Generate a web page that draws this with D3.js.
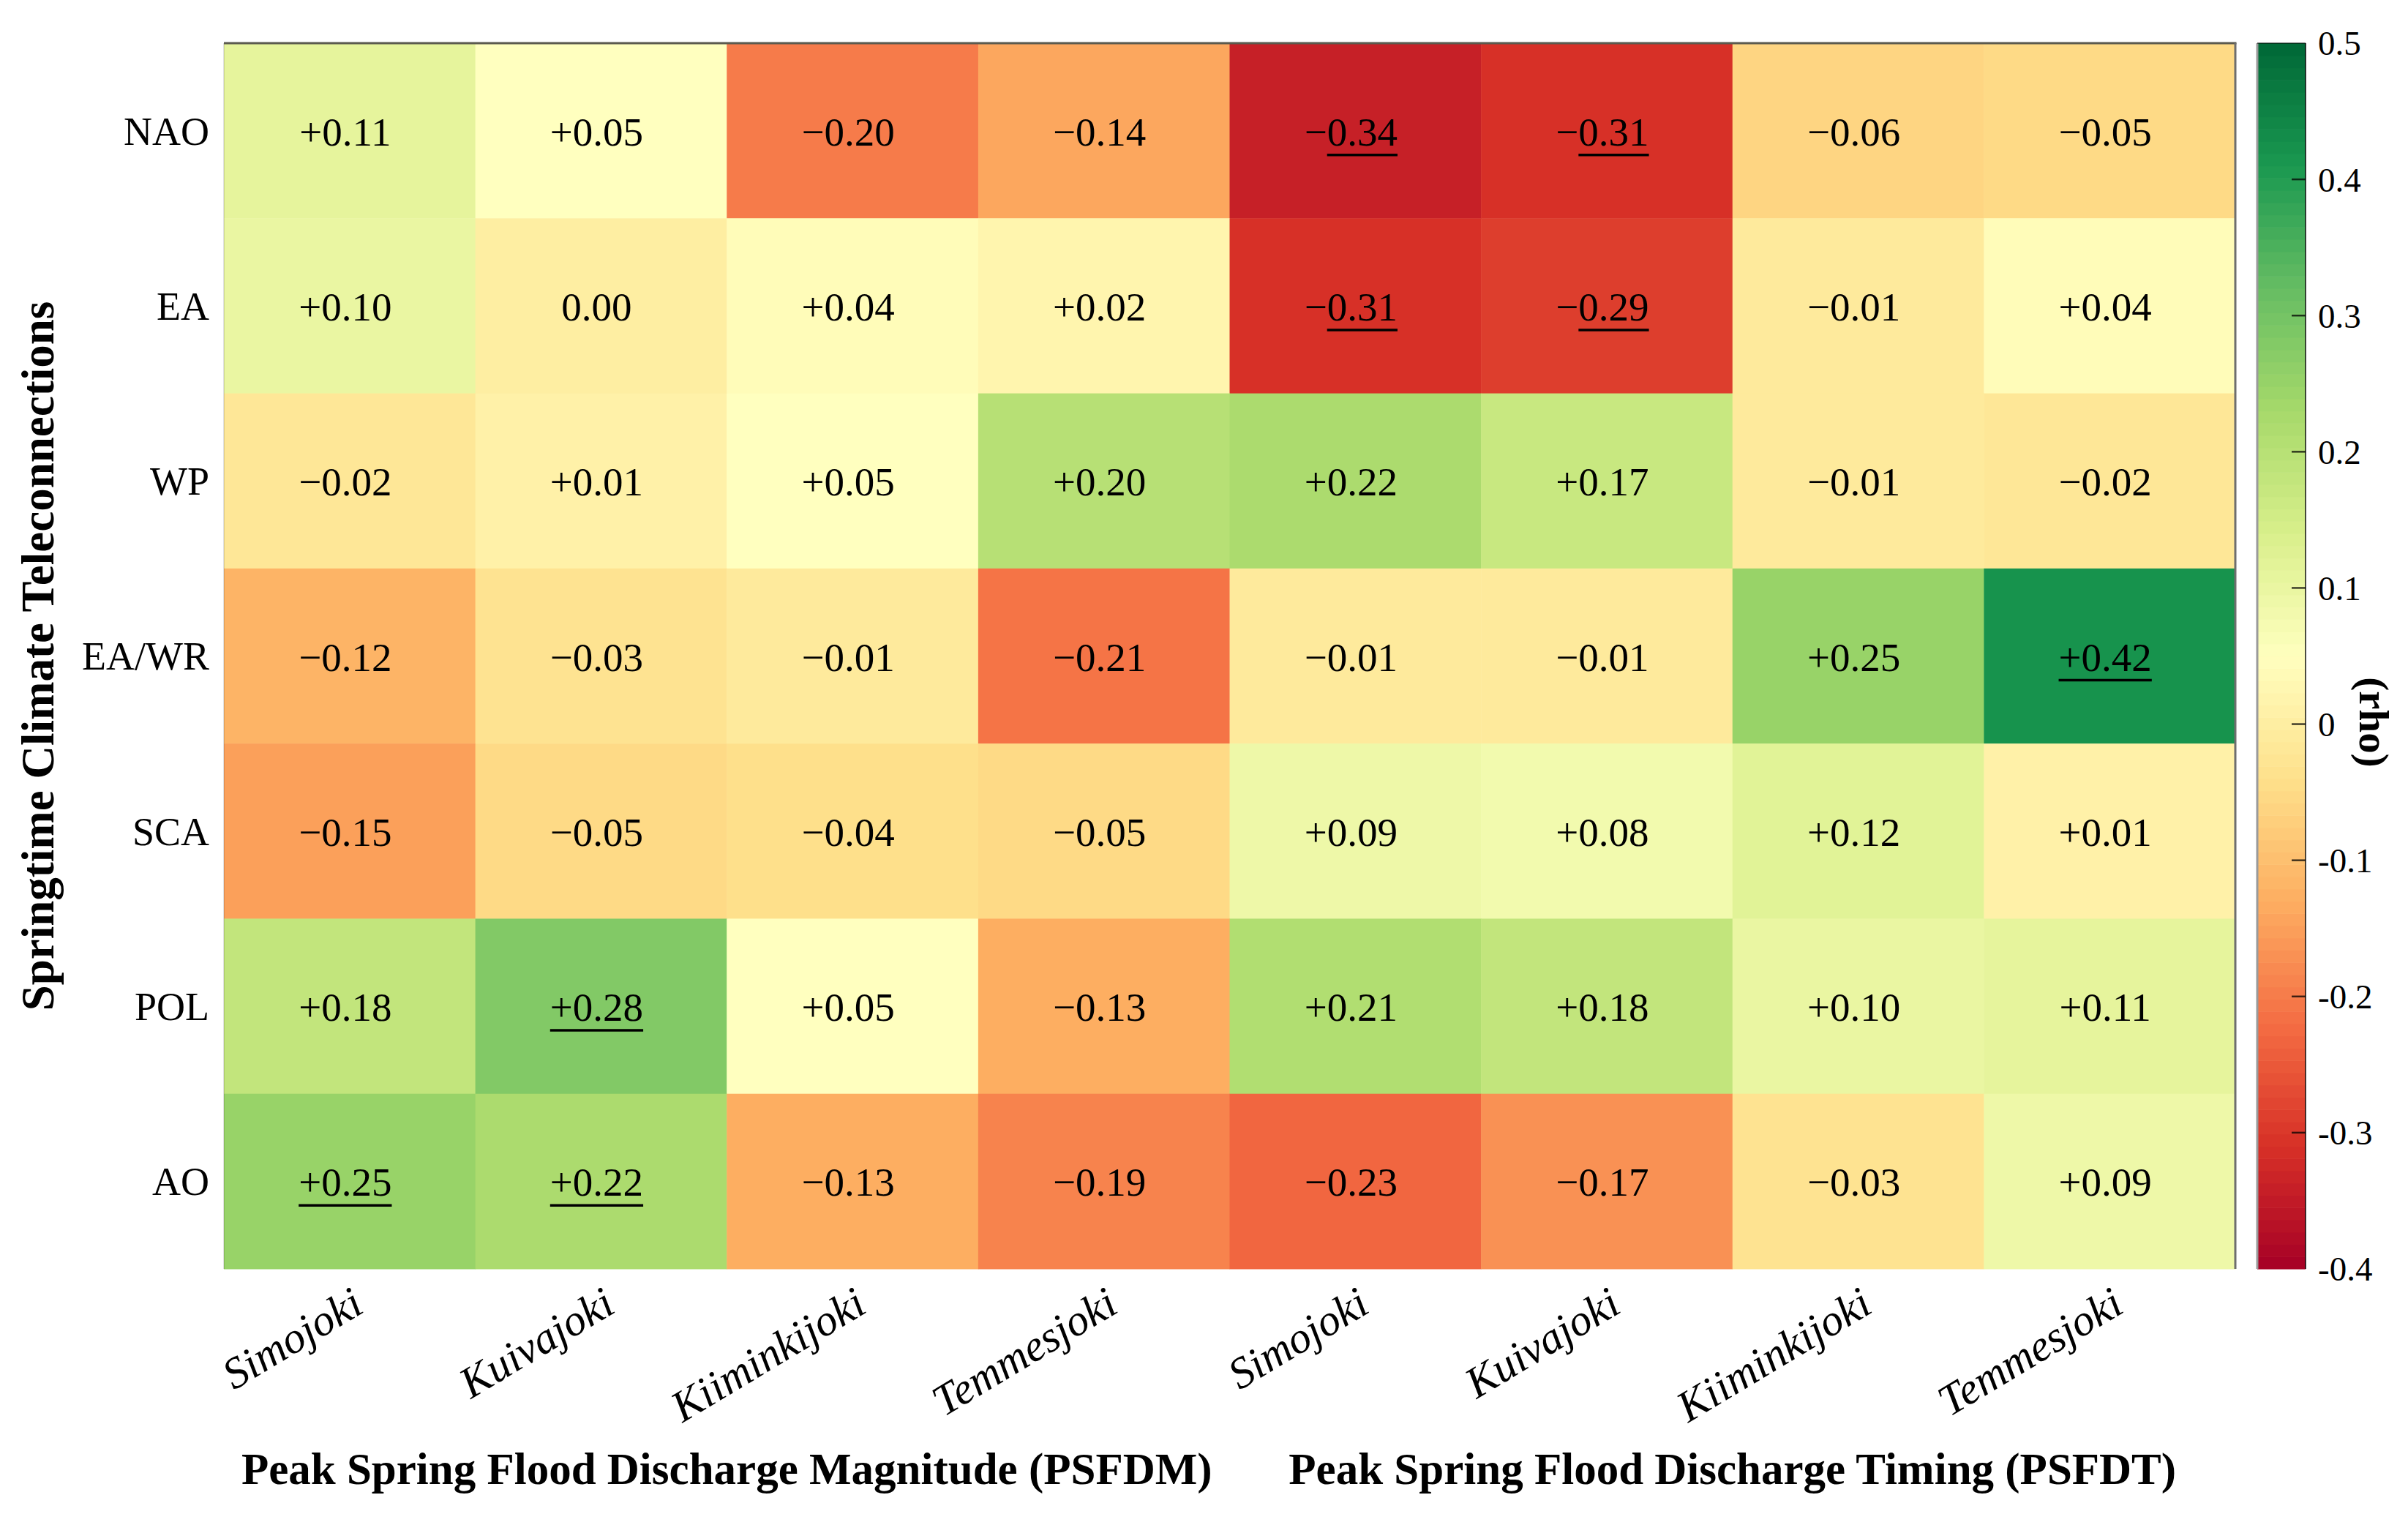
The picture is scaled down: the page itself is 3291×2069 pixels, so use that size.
<!DOCTYPE html>
<html>
<head>
<meta charset="utf-8">
<script src="https://cdn.jsdelivr.net/npm/d3@7"></script>
<style>
  html, body { margin: 0; padding: 0; background: #fff; }
  svg { display: block; }
  svg text { font-family: "Liberation Serif", "Times New Roman", serif; }
</style>
</head>
<body>
<svg id="chart" width="3291" height="2069" font-family="Liberation Serif, Times New Roman, serif"></svg>
<script>
// ---- data ----
const teleconnections = ["NAO", "EA", "WP", "EA/WR", "SCA", "POL", "AO"];
const rivers = ["Simojoki", "Kuivajoki", "Kiiminkijoki", "Temmesjoki",
                "Simojoki", "Kuivajoki", "Kiiminkijoki", "Temmesjoki"];
const groups = ["Peak Spring Flood Discharge Magnitude (PSFDM)",
                "Peak Spring Flood Discharge Timing (PSFDT)"];
const rhoNAO  = [0.11, 0.05, -0.20, -0.14, -0.34, -0.31, -0.06, -0.05];
const rhoEA   = [0.10, 0.00, 0.04, 0.02, -0.31, -0.29, -0.01, 0.04];
const rhoWP   = [-0.02, 0.01, 0.05, 0.20, 0.22, 0.17, -0.01, -0.02];
const rhoEAWR = [-0.12, -0.03, -0.01, -0.21, -0.01, -0.01, 0.25, 0.42];
const rhoSCA  = [-0.15, -0.05, -0.04, -0.05, 0.09, 0.08, 0.12, 0.01];
const rhoPOL  = [0.18, 0.28, 0.05, -0.13, 0.21, 0.18, 0.10, 0.11];
const rhoAO   = [0.25, 0.22, -0.13, -0.19, -0.23, -0.17, -0.03, 0.09];
const sigNAO  = [0, 0, 0, 0, 1, 1, 0, 0];
const sigEA   = [0, 0, 0, 0, 1, 1, 0, 0];
const sigWP   = [0, 0, 0, 0, 0, 0, 0, 0];
const sigEAWR = [0, 0, 0, 0, 0, 0, 0, 1];
const sigSCA  = [0, 0, 0, 0, 0, 0, 0, 0];
const sigPOL  = [0, 1, 0, 0, 0, 0, 0, 0];
const sigAO   = [1, 1, 0, 0, 0, 0, 0, 0];
const colorbarTicks = [0.5, 0.4, 0.3, 0.2, 0.1, 0, -0.1, -0.2, -0.3, -0.4];
const colorbarTickLabels = ["0.5", "0.4", "0.3", "0.2", "0.1", "0", "-0.1", "-0.2", "-0.3", "-0.4"];
const colorDomain = [-0.4, 0.5];
const yTitle = "Springtime Climate Teleconnections";
const cbTitle = "(rho)";

const values = [rhoNAO, rhoEA, rhoWP, rhoEAWR, rhoSCA, rhoPOL, rhoAO];
const sig = [sigNAO, sigEA, sigWP, sigEAWR, sigSCA, sigPOL, sigAO];
const cells = [];
values.forEach((row, r) => row.forEach((v, c) => cells.push({r, c, v, s: sig[r][c]})));

// ---- layout ----
const FONT = "Liberation Serif, Times New Roman, serif";
const L = 306, R = 3055, T = 59, B = 1734;
const svg = d3.select("#chart");
svg.append("rect").attr("width", 3291).attr("height", 2069).attr("fill", "#fff");

const x = d3.scaleBand().domain(d3.range(rivers.length)).range([L, R]).padding(0);
const y = d3.scaleBand().domain(teleconnections).range([T, B]).padding(0);
// piecewise-linear RdYlGn (11 anchor colours) over the colour domain
const palette = d3.schemeRdYlGn[11];
const color = d3.scaleLinear()
  .domain(d3.range(palette.length).map(i => colorDomain[0] + i * (colorDomain[1] - colorDomain[0]) / (palette.length - 1)))
  .range(palette)
  .interpolate(d3.interpolateRgb)
  .clamp(true);

const fmt = v => v === 0 ? "0.00" : (v > 0 ? "+" : "\u2212") + Math.abs(v).toFixed(2);

// cells
svg.append("g").selectAll("rect").data(cells).join("rect")
  .attr("x", d => x(d.c)).attr("y", d => y(teleconnections[d.r]))
  .attr("width", x.bandwidth() + 0.5).attr("height", y.bandwidth() + 0.5)
  .attr("fill", d => color(d.v));

// frame
svg.append("line").attr("x1", L).attr("x2", L).attr("y1", T).attr("y2", B)
  .attr("stroke", "rgba(0,0,0,0.12)").attr("stroke-width", 2);
svg.append("line").attr("x1", L).attr("x2", R + 1.5).attr("y1", T).attr("y2", T)
  .attr("stroke", "#5b5a4e").attr("stroke-width", 3);
svg.append("line").attr("x1", R).attr("x2", R).attr("y1", T).attr("y2", B)
  .attr("stroke", "#6e6e6e").attr("stroke-width", 3);

// cell labels
const lbl = svg.append("g").selectAll("text").data(cells).join("text")
  .attr("x", d => x(d.c) + x.bandwidth() / 2 - 6)
  .attr("y", d => y(teleconnections[d.r]) + y.bandwidth() / 2 + 20)
  .attr("text-anchor", "middle")
  .attr("font-family", FONT)
  .attr("font-size", 55)
  .attr("fill", "#000")
  .text(d => fmt(d.v));

// underlines for significant values
lbl.each(function(d) {
  if (!d.s) return;
  const len = this.getComputedTextLength();
  const cx = x(d.c) + x.bandwidth() / 2 - 6;
  let x0 = cx - len / 2;
  const x1 = cx + len / 2;
  if (d.v < 0) x0 += this.getSubStringLength(0, 1);
  const by = y(teleconnections[d.r]) + y.bandwidth() / 2 + 20 + 13;
  svg.append("line").attr("x1", x0).attr("x2", x1).attr("y1", by).attr("y2", by)
    .attr("stroke", "#000").attr("stroke-width", 3.5);
});

// y axis labels
const yAxis = d3.axisLeft(y).tickSize(0).tickPadding(20);
const yg = svg.append("g").attr("transform", `translate(${L},0)`).call(yAxis);
yg.attr("font-family", FONT);
yg.select(".domain").remove();
yg.selectAll("text").attr("font-size", 54).attr("font-family", FONT)
  .attr("fill", "#000").attr("dy", "0.35em");

// x axis labels (rotated, italic)
svg.append("g").selectAll("text").data(rivers).join("text")
  .attr("transform", (d, i) => `translate(${x(i) + x.bandwidth() / 2 + 22},${B + 58}) rotate(-31)`)
  .attr("text-anchor", "end")
  .attr("font-family", FONT)
  .attr("font-size", 60)
  .attr("font-style", "italic")
  .attr("fill", "#000")
  .text(d => d);

// group titles
svg.append("g").selectAll("text").data(groups).join("text")
  .attr("x", (d, i) => (x(i * 4) + x(i * 4 + 3) + x.bandwidth()) / 2)
  .attr("y", 2028)
  .attr("text-anchor", "middle")
  .attr("font-family", FONT)
  .attr("font-size", 61)
  .attr("font-weight", "bold")
  .attr("fill", "#000")
  .text(d => d);

// y title
svg.append("text")
  .attr("transform", `translate(73,${(T + B) / 2}) rotate(-90)`)
  .attr("text-anchor", "middle")
  .attr("font-family", FONT)
  .attr("font-size", 63)
  .attr("font-weight", "bold")
  .attr("fill", "#000")
  .text(yTitle);

// ---- colorbar ----
const cbL = 3085, cbR = 3151;
const cy = d3.scaleLinear().domain(colorDomain).range([B, T]);
const nBands = 100;
const bands = d3.range(nBands).map(i => colorDomain[0] + (i + 0.5) * (colorDomain[1] - colorDomain[0]) / nBands);
const bh = (B - T) / nBands;
svg.append("g").selectAll("rect").data(bands).join("rect")
  .attr("x", cbL).attr("width", cbR - cbL)
  .attr("y", d => cy(d) - bh / 2).attr("height", bh + 0.6)
  .attr("fill", d => color(d));
svg.append("line").attr("x1", cbL).attr("x2", cbL).attr("y1", T).attr("y2", B)
  .attr("stroke", "#9a9a9a").attr("stroke-width", 3);
svg.append("line").attr("x1", cbR).attr("x2", cbR).attr("y1", T).attr("y2", B)
  .attr("stroke", "rgba(0,0,0,0.7)").attr("stroke-width", 2);
svg.append("line").attr("x1", cbL).attr("x2", cbR).attr("y1", T).attr("y2", T)
  .attr("stroke", "rgba(0,0,0,0.5)").attr("stroke-width", 2);

// ticks
svg.append("g").selectAll("line").data(colorbarTicks.filter(t => t > colorDomain[0] && t < colorDomain[1])).join("line")
  .attr("x1", cbR - 19).attr("x2", cbR).attr("y1", d => cy(d)).attr("y2", d => cy(d))
  .attr("stroke", "rgba(0,0,0,0.75)").attr("stroke-width", 2.5);

svg.append("g").selectAll("text").data(colorbarTicks).join("text")
  .attr("x", 3168).attr("y", d => cy(d)).attr("dy", "0.35em")
  .attr("font-family", FONT)
  .attr("font-size", 47).attr("fill", "#000")
  .text((d, i) => colorbarTickLabels[i]);

svg.append("text")
  .attr("transform", `translate(3225,987) rotate(90)`)
  .attr("text-anchor", "middle")
  .attr("font-family", FONT)
  .attr("font-size", 57)
  .attr("font-weight", "bold")
  .attr("fill", "#000")
  .text(cbTitle);
</script>
</body>
</html>
